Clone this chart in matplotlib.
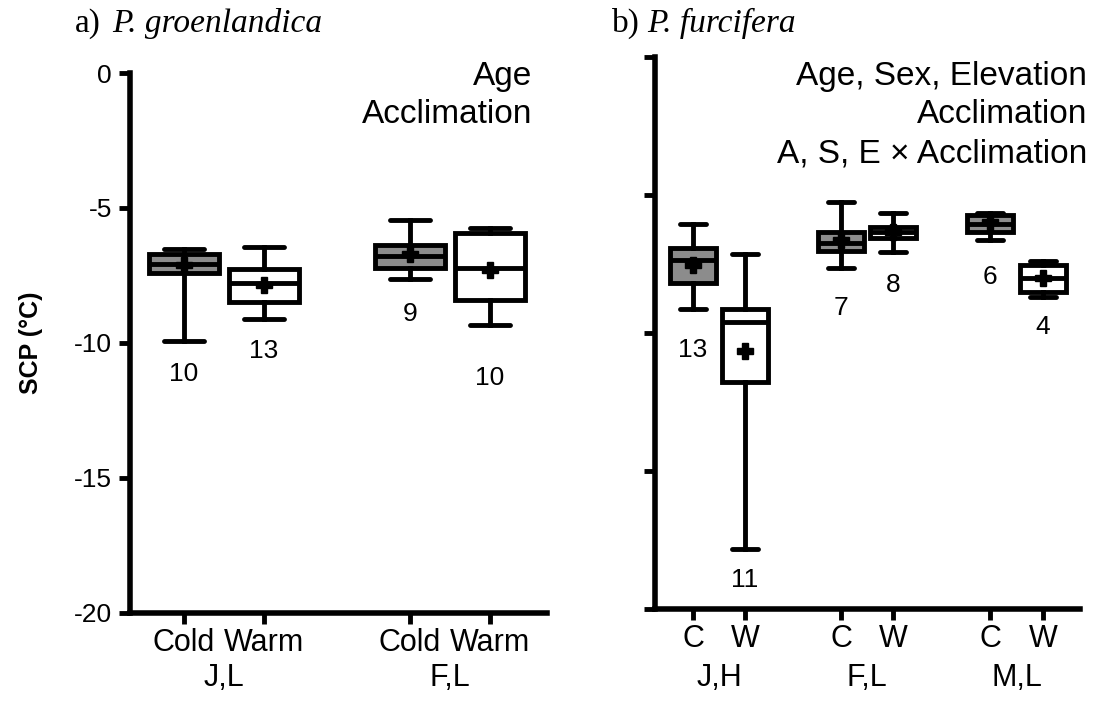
import matplotlib
matplotlib.use("Agg")
import matplotlib.pyplot as plt

plt.rcParams['font.family'] = ['Liberation Sans', 'DejaVu Sans']

# ------------------------------
# Dados (SCP, °C)
# ------------------------------
# a) P. groenlandica
a_groups = ["J,L", "F,L"]
a_labels = ["Cold", "Warm", "Cold", "Warm"]
a_pos = [1, 2, 3.825, 4.825]
a_whishi = [-6.52, -6.43, -5.44, -5.75]
a_q3 = [-6.72, -7.26, -6.37, -5.94]
a_med = [-7.07, -7.79, -6.77, -7.23]
a_q1 = [-7.39, -8.47, -7.23, -8.41]
a_whislo = [-9.93, -9.12, -7.64, -9.33]
a_mean = [-7.10, -7.85, -6.70, -7.30]
a_n = [10, 13, 9, 10]
a_n_y = [-11.15, -10.3, -8.93, -11.3]

# b) P. furcifera
b_groups = ["J,H", "F,L", "M,L"]
b_labels = ["C", "W", "C", "W", "C", "W"]
b_pos = [1, 2, 3.85, 4.85, 6.71, 7.73]
b_whishi = [-6.03, -7.14, -5.24, -5.64, -5.65, -7.39]
b_q3 = [-6.93, -9.13, -6.33, -6.17, -5.72, -7.54]
b_med = [-7.36, -9.59, -6.73, -6.35, -6.03, -8.02]
b_q1 = [-8.20, -11.76, -7.03, -6.55, -6.33, -8.50]
b_whislo = [-9.11, -17.84, -7.66, -7.05, -6.63, -8.68]
b_mean = [-7.54, -10.64, -6.63, -6.35, -5.97, -8.02]
b_n = [13, 11, 7, 8, 6, 4]
b_n_y = [-10.6, -18.95, -9.1, -8.26, -7.96, -9.77]

fill = {"Cold": "#8c8c8c", "Warm": "white", "C": "#8c8c8c", "W": "white"}
LW = 3.5


def draw_panel(ax, pos, labels, groups, group_y, whishi, q3, med, q1, whislo,
               mean, n, n_y):
    stats = []
    for i in range(len(pos)):
        stats.append(dict(whishi=whishi[i], q3=q3[i], med=med[i], q1=q1[i],
                          whislo=whislo[i], mean=mean[i], fliers=[]))
    bp = ax.bxp(stats, positions=pos, widths=0.88, patch_artist=True,
                showmeans=True, showfliers=False, capwidths=0.5,
                boxprops=dict(linewidth=LW, edgecolor="black"),
                whiskerprops=dict(linewidth=LW, color="black"),
                capprops=dict(linewidth=LW, color="black", solid_capstyle="round"),
                medianprops=dict(linewidth=LW, color="black"),
                meanprops=dict(marker="P", markerfacecolor="black",
                               markeredgecolor="black", markersize=11))
    for patch, lab in zip(bp["boxes"], labels):
        patch.set_facecolor(fill[lab])
    for x, y, k in zip(pos, n_y, n):
        ax.text(x, y, str(k), ha="center", va="center", fontsize=19)

    ax.set_ylim(-20, 0)
    ax.set_yticks([0, -5, -10, -15, -20])
    ax.set_xticks(pos)
    ax.set_xticklabels(labels)
    ax.tick_params(axis="both", direction="out", length=8, width=LW,
                   labelsize=19, pad=5)
    ax.tick_params(axis="x", labelsize=22, pad=3)
    for s in ["top", "right"]:
        ax.spines[s].set_visible(False)
    for s in ["left", "bottom"]:
        ax.spines[s].set_linewidth(LW + 0.5)
    # nomes dos grupos sob cada par
    for g, k in enumerate(groups):
        xc = (pos[2 * g] + pos[2 * g + 1]) / 2
        ax.text(xc, group_y, k, transform=ax.get_xaxis_transform(),
                ha="center", va="center", fontsize=22)


fig = plt.figure(figsize=(10.94, 7.04), dpi=100)
ax1 = fig.add_axes([0.1188, 0.1293, 0.3812, 0.767])
ax2 = fig.add_axes([0.5987, 0.1349, 0.3885, 0.784])

draw_panel(ax1, a_pos, a_labels, a_groups, -0.120, a_whishi, a_q3, a_med, a_q1,
           a_whislo, a_mean, a_n, a_n_y)
ax1.set_xlim(0.325, 5.54)
ax1.set_yticklabels(["0", "-5", "-10", "-15", "-20"])

draw_panel(ax2, b_pos, b_labels, b_groups, -0.125, b_whishi, b_q3, b_med, b_q1,
           b_whislo, b_mean, b_n, b_n_y)
ax2.set_xlim(0.27, 8.44)
ax2.set_yticklabels([])

fig.text(0.028, 0.513, "SCP (°C)", rotation=90, ha="center", va="center",
         fontsize=18, fontweight="bold")

# títulos
serif = "Liberation Serif"
fig.text(0.0686, 0.967, "a)", fontsize=24, family=serif, va="center")
fig.text(0.1024, 0.967, "P. groenlandica", fontsize=24, family=serif,
         style="italic", va="center")
fig.text(0.5594, 0.967, "b)", fontsize=24, family=serif, va="center")
fig.text(0.592, 0.967, "P. furcifera", fontsize=24, family=serif,
         style="italic", va="center")

# efeitos significativos
fig.text(0.4863, 0.914, "Age\nAcclimation", ha="right", va="top",
         fontsize=24, linespacing=1.33)
fig.text(0.9936, 0.914, "Age, Sex, Elevation\nAcclimation\nA, S, E × Acclimation",
         ha="right", va="top", fontsize=24, linespacing=1.33)

fig.savefig("out.png", dpi=100)
